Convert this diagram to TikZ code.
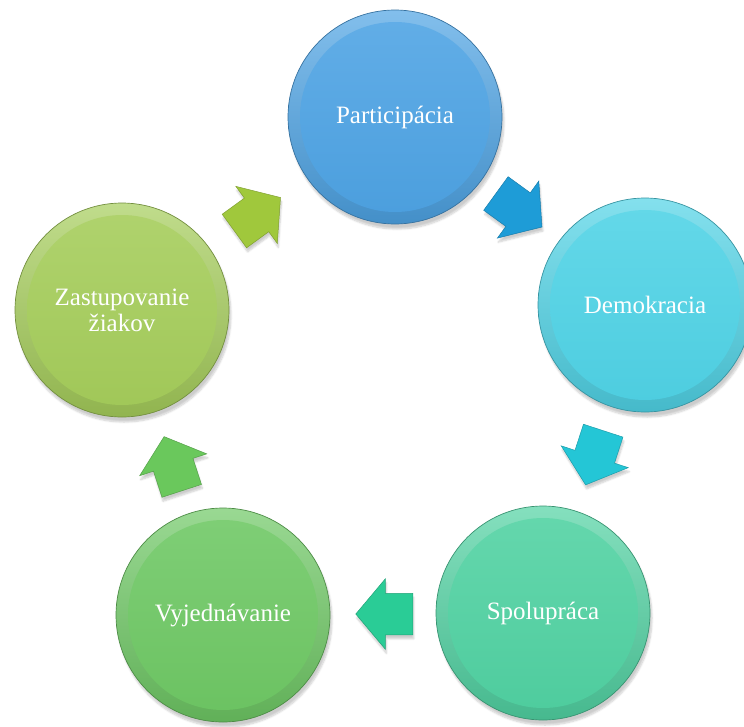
\documentclass[tikz,border=0pt]{standalone}
\usepackage{fontspec}
\setmainfont{Liberation Serif}
\usetikzlibrary{shapes.arrows,calc,shadows.blur}

\definecolor{partblue}{RGB}{77,163,228}
\definecolor{democyan}{RGB}{79,211,230}
\definecolor{spolteal}{RGB}{80,210,162}
\definecolor{vyjgreen}{RGB}{110,200,100}
\definecolor{zastlime}{RGB}{165,205,90}
\definecolor{arrblue}{RGB}{30,156,215}
\definecolor{arrcyan}{RGB}{36,198,214}
\definecolor{arrteal}{RGB}{42,204,150}
\definecolor{arrgreen}{RGB}{106,200,92}
\definecolor{arrlime}{RGB}{160,200,60}

\begin{document}
\begin{tikzpicture}[x=1pt,y=1pt,
  bubble/.style={circle,minimum size=214pt,inner sep=0pt,align=center,text=white,
    font=\fontsize{25}{28}\selectfont,draw=#1!70!black,line width=0.7pt,
    top color=#1!70!white,bottom color=#1!88!black,
    blur shadow={shadow xshift=2pt,shadow yshift=-5pt,shadow opacity=20,shadow blur steps=8},
    path picture={\shade[top color=#1!88!white,bottom color=#1!97!black]
      (path picture bounding box.center) circle (95pt);}},
  cyclearrow/.style={single arrow,minimum height=57pt,inner xsep=0pt,inner ysep=20.5pt,
    single arrow head extend=14.5pt,single arrow tip angle=100,
    fill=#1,draw=#1!80!black,line width=0.5pt,
    blur shadow={shadow xshift=1pt,shadow yshift=-4pt,shadow opacity=20,shadow blur steps=6}}]
\useasboundingbox (0,0) rectangle (744,-726);

\node [bubble=partblue] (part) at (395,-117) {Participácia};
\node [bubble=democyan] (demo) at (645,-305) {Demokracia};
\node [bubble=spolteal] (spol) at (543,-613) {Spolupráca};
\node [bubble=vyjgreen] (vyj) at (223,-615) {Vyjednávanie};
\node [bubble=zastlime] (zast) at (122,-310) {Zastupovanie\\[-2pt]žiakov};

\node [cyclearrow=arrblue,rotate=-36,xshift=-10pt] (a1) at ($(part)!0.5!(demo)$) {};
\node [cyclearrow=arrcyan,rotate=-108,xshift=-10pt] (a2) at ($(demo)!0.5!(spol)$) {};
\node [cyclearrow=arrteal,rotate=180,xshift=-10pt] (a3) at ($(spol)!0.5!(vyj)$) {};
\node [cyclearrow=arrgreen,rotate=108,xshift=-10pt] (a4) at ($(vyj)!0.5!(zast)$) {};
\node [cyclearrow=arrlime,rotate=36,xshift=-10pt] (a5) at ($(zast)!0.5!(part)$) {};
\end{tikzpicture}
\end{document}
